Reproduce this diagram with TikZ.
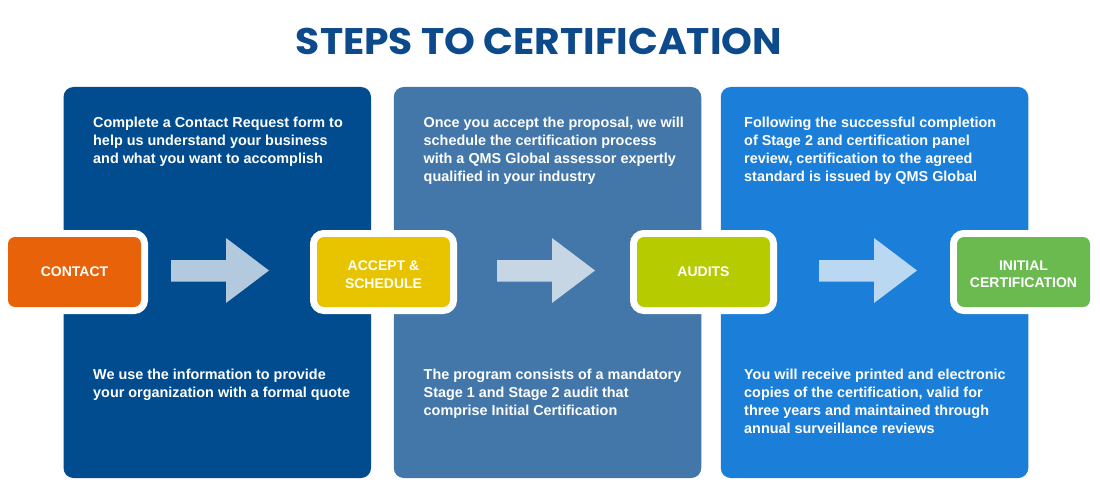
\documentclass[tikz,border=0pt]{standalone}
\usepackage{fontspec}
\usetikzlibrary{calc}
\setmainfont{Liberation Sans}
\newfontfamily\titlefont{Poppins}
\definecolor{titleblue}{RGB}{12,74,140}
\definecolor{pone}{RGB}{0,76,142}
\definecolor{ptwo}{RGB}{67,119,169}
\definecolor{pthree}{RGB}{27,126,216}
\definecolor{corange}{RGB}{232,98,10}
\definecolor{cyellow}{RGB}{232,196,0}
\definecolor{clime}{RGB}{182,204,0}
\definecolor{cgreen}{RGB}{106,186,80}
\begin{document}
\begin{tikzpicture}[x=1pt,y=-1pt,
  panel/.style={rounded corners=10pt, inner sep=0pt, minimum width=307.5pt, minimum height=391pt},
  stepbox/.style={rounded corners=7pt, inner sep=0pt, minimum width=133pt, minimum height=70pt,
    preaction={draw=white, line width=14pt}},
  boxlabel/.style={inner sep=0pt, text=white, align=center, font=\bfseries\fontsize{14}{17.5}\selectfont},
  body/.style={inner sep=0pt, anchor=north west, align=left, text=white,
    font=\bfseries\fontsize{14.4}{18}\selectfont},
  blockarr/.style={fill=white, fill opacity=0.7}]
\useasboundingbox (0,0) rectangle (1100,500);
\fill[white] (0,0) rectangle (1100,500);

% title
\node[inner sep=0pt, text=titleblue, font=\titlefont\bfseries\fontsize{37}{40}\selectfont] (title) at (539,41) {\scalebox{1.06}[1]{STEPS TO CERTIFICATION}};

% panels
\node[panel, fill=pone]   (panel1) at (217.25,282.5) {};
\node[panel, fill=ptwo]   (panel2) at (547.5,282.5) {};
\node[panel, fill=pthree] (panel3) at (874.5,282.5) {};

% panel texts
\node[body] (t1) at (93,117) {Complete a Contact Request form to\\help us understand your business\\and what you want to accomplish};
\node[body] (b1) at (93,369) {We use the information to provide\\your organization with a formal quote};
\node[body] (t2) at (423.5,117) {Once you accept the proposal, we will\\schedule the certification process\\with a QMS Global assessor expertly\\qualified in your industry};
\node[body] (b2) at (423.5,369) {The program consists of a mandatory\\Stage 1 and Stage 2 audit that\\comprise Initial Certification};
\node[body] (t3) at (744,117) {Following the successful completion\\of Stage 2 and certification panel\\review, certification to the agreed\\standard is issued by QMS Global};
\node[body] (b3) at (744,369) {You will receive printed and electronic\\copies of the certification, valid for\\three years and maintained through\\annual surveillance reviews};

% step boxes
\node[stepbox, fill=corange] (contact) at (74.5,272) {};
\node[stepbox, fill=cyellow] (accept)  at (383.5,272) {};
\node[stepbox, fill=clime]   (audits)  at (703.5,272) {};
\node[stepbox, fill=cgreen]  (initial) at (1023.5,272) {};
\node[boxlabel] (contactlbl) at (contact.center) {CONTACT};
\node[boxlabel] (acceptlbl)  at ([yshift=-2.5pt]accept.center) {ACCEPT \&\\SCHEDULE};
\node[boxlabel] (auditslbl)  at (audits.center) {AUDITS};
\node[boxlabel] (initiallbl) at ([yshift=-2.5pt]initial.center) {INITIAL\\CERTIFICATION};

% block arrows
\coordinate (a1) at (171,271);
\coordinate (a2) at (497,271);
\coordinate (a3) at (819,271);
\foreach \a in {a1,a2,a3}{
  \fill[blockarr] ($(\a)+(0,-11)$) -- ++(55,0) -- ++(0,-22) -- ++(43,32.5) -- ++(-43,32.5) -- ++(0,-21.5) -- ++(-55,0) -- cycle;
}
\end{tikzpicture}
\end{document}
